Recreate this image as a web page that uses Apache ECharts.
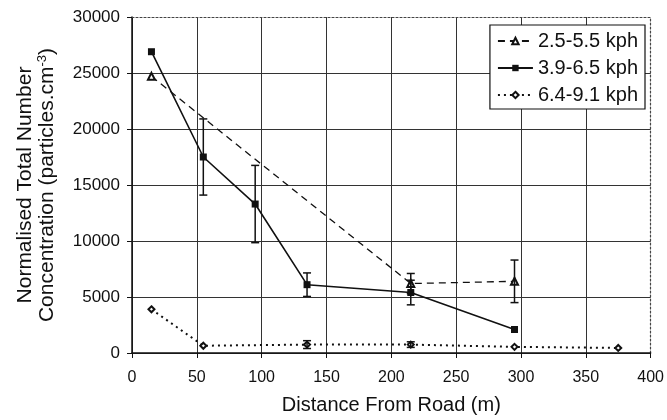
<!DOCTYPE html>
<html>
<head>
<meta charset="utf-8">
<script src="https://cdn.jsdelivr.net/npm/echarts@6/dist/echarts.min.js"></script>
<style>
  html, body { margin: 0; padding: 0; background: #fff; }
  #chart { width: 667px; height: 420px; }
</style>
</head>
<body>
<div id="chart"></div>
<script>
// values
const names = ['2.5-5.5 kph', '3.9-6.5 kph', '6.4-9.1 kph']
const dist1 = [15, 215, 295]
const conc1 = [24700, 6200, 6400]
const err1 = [0, 900, 1900]
const dist2 = [15, 55, 95, 135, 215, 295]
const conc2 = [26900, 17500, 13300, 6100, 5400, 2100]
const err2 = [0, 3400, 3450, 1050, 1100, 0]
const dist3 = [15, 55, 135, 215, 295, 375]
const conc3 = [3900, 650, 750, 750, 550, 450]
const err3 = [0, 0, 350, 250, 0, 0]
const yTicks = [0, 5000, 10000, 15000, 20000, 25000, 30000]
const xTicks = [0, 50, 100, 150, 200, 250, 300, 350, 400]

const font = 'Liberation Sans, Arial, sans-serif'
const ink = '#111'

function pairs(xs, ys) {
  return xs.map((x, i) => [x, ys[i]])
}
function errRows(xs, ys, es) {
  return xs.map((x, i) => [x, ys[i], es[i]]).filter(r => r[2] > 0)
}
const errData = [].concat(errRows(dist1, conc1, err1), errRows(dist2, conc2, err2), errRows(dist3, conc3, err3))

function renderErr(params, api) {
  const x = api.value(0)
  const y = api.value(1)
  const e = api.value(2)
  const top = api.coord([x, y + e])
  const bot = api.coord([x, y - e])
  const cap = 4
  const style = { stroke: ink, lineWidth: 1.5 }
  return {
    type: 'group',
    children: [
      { type: 'line', shape: { x1: top[0], y1: top[1], x2: bot[0], y2: bot[1] }, style },
      { type: 'line', shape: { x1: top[0] - cap, y1: top[1], x2: top[0] + cap, y2: top[1] }, style },
      { type: 'line', shape: { x1: bot[0] - cap, y1: bot[1], x2: bot[0] + cap, y2: bot[1] }, style }
    ]
  }
}

const chart = echarts.init(document.getElementById('chart'))
chart.setOption({
  animation: false,
  textStyle: { fontFamily: font, color: ink },
  grid: { left: 132, right: 16, top: 17, bottom: 67 },
  legend: {
    data: names,
    orient: 'vertical',
    right: 22,
    top: 25,
    padding: [6, 7, 4, 7],
    itemGap: 7,
    itemWidth: 35,
    itemHeight: 8,
    borderColor: ink,
    borderWidth: 1.2,
    backgroundColor: '#fff',
    textStyle: { fontSize: 20, fontFamily: font, color: ink }
  },
  xAxis: [{
    type: 'value',
    min: xTicks[0],
    max: xTicks[xTicks.length - 1],
    interval: 50,
    name: 'Distance From Road (m)',
    nameLocation: 'middle',
    nameGap: 42,
    nameTextStyle: { fontSize: 20, color: ink },
    axisLine: { lineStyle: { color: ink, width: 1.5 } },
    axisTick: { length: 5, lineStyle: { color: ink } },
    axisLabel: { fontSize: 16, color: ink, margin: 17, formatter: v => String(v) },
    splitLine: { showMaxLine: false, lineStyle: { color: '#333', width: 1 } }
  }, {
    type: 'value',
    position: 'top',
    min: 0,
    max: 400,
    axisLine: { show: true, onZero: false, lineStyle: { color: '#444', width: 1.2, type: [2, 2] } },
    axisTick: { show: false },
    axisLabel: { show: false },
    splitLine: { show: false }
  }],
  yAxis: [{
    type: 'value',
    min: yTicks[0],
    max: yTicks[yTicks.length - 1],
    interval: 5000,
    name: 'Normalised Total Number\nConcentration (particles.cm{sup|-3})',
    nameLocation: 'middle',
    nameGap: 74,
    nameTextStyle: {
      fontSize: 21,
      lineHeight: 22,
      color: ink,
      rich: {
        sup: { fontSize: 13, verticalAlign: 'top', lineHeight: 22, padding: [0, 0, 10, 0] }
      }
    },
    axisLine: { show: true, lineStyle: { color: ink, width: 1.5 } },
    axisTick: { show: true, length: 5, lineStyle: { color: ink } },
    axisLabel: { fontSize: 17, color: ink, margin: 12, formatter: v => String(v) },
    splitLine: { showMaxLine: false, lineStyle: { color: '#333', width: 1 } }
  }, {
    type: 'value',
    position: 'right',
    min: 0,
    max: 30000,
    axisLine: { show: true, onZero: false, lineStyle: { color: '#444', width: 1.2, type: [2, 2] } },
    axisTick: { show: false },
    axisLabel: { show: false },
    splitLine: { show: false }
  }],
  series: [
    {
      name: names[0],
      type: 'line',
      data: pairs(dist1, conc1),
      symbol: 'emptyTriangle',
      symbolSize: 7,
      lineStyle: { color: ink, width: 1.3, type: [7, 5] },
      itemStyle: { color: ink, borderColor: ink, borderWidth: 1.2 },
      z: 3
    },
    {
      name: names[1],
      type: 'line',
      data: pairs(dist2, conc2),
      symbol: 'rect',
      symbolSize: 7,
      lineStyle: { color: ink, width: 1.6 },
      itemStyle: { color: ink },
      z: 3
    },
    {
      name: names[2],
      type: 'line',
      data: pairs(dist3, conc3),
      symbol: 'emptyDiamond',
      symbolSize: 6,
      lineStyle: { color: ink, width: 2, type: [2, 4] },
      itemStyle: { color: ink, borderColor: ink, borderWidth: 1.2 },
      z: 3
    },
    {
      name: 'error',
      type: 'custom',
      renderItem: renderErr,
      data: errData,
      encode: { x: 0, y: 1 },
      silent: true,
      z: 4
    }
  ]
})
</script>
</body>
</html>
